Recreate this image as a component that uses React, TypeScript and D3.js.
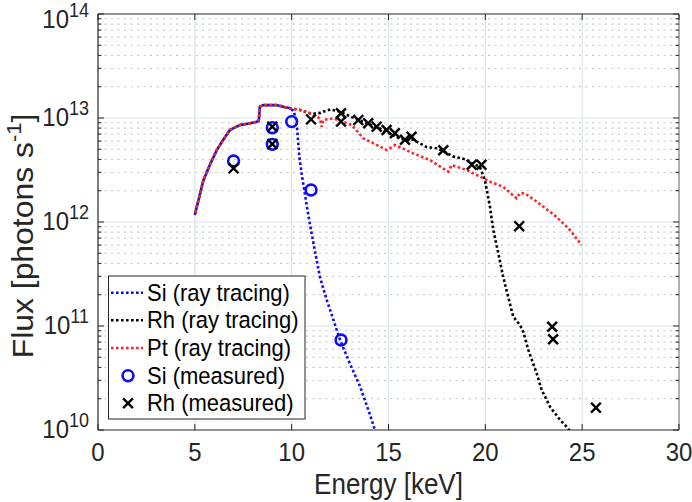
import React from "react";
import * as d3 from "d3";

// Ray-tracing curves (energy in keV, flux in photons/s)
const siRayE = [5, 5.2, 5.44, 5.8, 6.13, 6.5, 6.81, 7.33, 7.85, 8.19, 8.3, 8.36, 8.53, 9.22, 9.91, 10.1, 10.25, 10.4, 10.55, 10.7, 10.9, 11.12, 11.46, 11.81, 12.15, 12.49, 13.0, 13.53, 14.0, 14.3, 14.6];
const siRayF = [1.17e12, 1.66e12, 2.51e12, 3.63e12, 4.9e12, 6.31e12, 7.67e12, 8.57e12, 8.89e12, 9.2e12, 9.33e12, 1.285e13, 1.33e13, 1.33e13, 1.24e13, 1.17e13, 9.33e12, 4.17e12, 2.63e12, 1.78e12, 1.05e12, 6.31e11, 2.95e11, 1.78e11, 1.15e11, 7.41e10, 4.37e10, 2.63e10, 1.48e10, 1.0e10, 7.08e9];

const rhRayE = [5, 5.2, 5.44, 5.8, 6.13, 6.5, 6.81, 7.33, 7.85, 8.19, 8.3, 8.36, 8.53, 9.22, 9.91, 10.4, 10.94, 11.12, 11.5, 11.63, 12.0, 12.49, 13.1, 13.87, 14.56, 15.07, 15.59, 16.28, 16.97, 17.49, 17.83, 18.34, 19.03, 19.21, 19.72, 19.98, 20.24, 20.41, 20.67, 20.92, 21.18, 21.44, 21.79, 21.96, 22.22, 22.65, 22.91, 23.34, 23.86, 24.23, 24.5];
const rhRayF = [1.17e12, 1.66e12, 2.51e12, 3.63e12, 4.9e12, 6.31e12, 7.67e12, 8.57e12, 8.89e12, 9.2e12, 9.33e12, 1.285e13, 1.33e13, 1.33e13, 1.24e13, 1.2e13, 1.11e13, 1.1e13, 1.12e13, 1.15e13, 1.21e13, 1.15e13, 1.02e13, 8.91e12, 7.94e12, 7.08e12, 6.31e12, 6.17e12, 5.25e12, 5.13e12, 4.79e12, 4.27e12, 3.98e12, 3.72e12, 3.39e12, 2.51e12, 1.4e12, 8.38e11, 5.01e11, 2.98e11, 1.91e11, 1.23e11, 1.02e11, 8.81e10, 5.89e10, 3.51e10, 2.43e10, 1.67e10, 1.25e10, 1.06e10, 9.0e9];

const ptRayE = [5, 5.2, 5.44, 5.8, 6.13, 6.5, 6.81, 7.33, 7.85, 8.19, 8.3, 8.36, 8.53, 9.22, 9.91, 10.4, 10.94, 11.12, 11.46, 11.55, 11.63, 12.15, 13.1, 13.7, 14.91, 15.08, 15.33, 16.28, 17.14, 18.08, 18.26, 19.03, 19.72, 20.24, 20.92, 21.61, 21.79, 22.04, 22.65, 23.68, 24.37, 24.97];
const ptRayF = [1.17e12, 1.66e12, 2.51e12, 3.63e12, 4.9e12, 6.31e12, 7.67e12, 8.57e12, 8.89e12, 9.2e12, 9.33e12, 1.285e13, 1.33e13, 1.33e13, 1.24e13, 1.2e13, 1.11e13, 1.07e13, 9.93e12, 8.24e12, 9.55e12, 9.93e12, 8.57e12, 6.38e12, 4.92e12, 5.12e12, 5.5e12, 4.57e12, 3.94e12, 3.05e12, 3.53e12, 3.16e12, 2.73e12, 2.44e12, 2.18e12, 1.69e12, 1.89e12, 1.89e12, 1.57e12, 1.12e12, 8.38e11, 6.01e11];

// Measured points
const siMeasE = [7, 9, 9, 10, 11, 12.55];
const siMeasF = [3.86e12, 8.07e12, 5.58e12, 9.23e12, 2.03e12, 7.33e10];

const rhMeasE = [7, 9, 9, 11, 12.55, 12.55, 13.44, 13.95, 14.39, 14.9, 15.33, 15.85, 16.19, 17.83, 19.3, 19.8, 21.75, 23.45, 23.5, 25.71];
const rhMeasF = [3.28e12, 8.26e12, 5.62e12, 9.7e12, 1.11e13, 9.23e12, 9.55e12, 8.91e12, 8.26e12, 7.67e12, 7.13e12, 6.17e12, 6.61e12, 4.9e12, 3.55e12, 3.55e12, 9.12e11, 9.84e10, 7.45e10, 1.64e10];

const xTicks = [0, 5, 10, 15, 20, 25, 30];
const yDecades = [10, 11, 12, 13, 14];
const legendLabels = ["Si (ray tracing)", "Rh (ray tracing)", "Pt (ray tracing)", "Si (measured)", "Rh (measured)"];

const BLUE = "#0a0aff";
const RED = "#ff2424";
const BLACK = "#000000";
const FONT = "'Liberation Sans', Arial, Helvetica, sans-serif";
const TXT = "#262626";

export default function App() {
  const W = 692, H = 502;
  const L = 98, R = 679, T = 14, B = 430;
  const x = d3.scaleLinear().domain([0, 30]).range([L, R]);
  const y = d3.scaleLog().domain([1e10, 1e14]).range([B, T]);

  const line = d3
    .line<[number, number]>()
    .x((d) => x(d[0]))
    .y((d) => y(d[1]));

  const zip = (a: number[], b: number[]) => a.map((v, i) => [v, b[i]] as [number, number]);

  const minors: number[] = [];
  for (let dcd = 10; dcd < 14; dcd++) {
    for (let k = 2; k <= 9; k++) minors.push(k * Math.pow(10, dcd));
  }

  const dash = "2.6 2.4";
  const lw = 2.6;
  const SY = 1.08; // slight vertical stretch of glyphs, as in the reference

  const legendRowY = [292.7, 320.2, 348, 375.7, 403.3];
  const xMark = (cx: number, cy: number, s: number, key: string) => (
    <g key={key} stroke={BLACK} strokeWidth={2.4}>
      <line x1={cx - s} y1={cy - s} x2={cx + s} y2={cy + s} />
      <line x1={cx - s} y1={cy + s} x2={cx + s} y2={cy - s} />
    </g>
  );

  return (
    <svg width={W} height={H} style={{ position: "absolute", left: 0, top: 0, background: "#fff" }} fontFamily={FONT}>
      <defs>
        <clipPath id="plotclip">
          <rect x={L} y={T} width={R - L} height={B - T} />
        </clipPath>
      </defs>
      <rect x={0} y={0} width={W} height={H} fill="#fff" />
      {/* minor horizontal grid */}
      {minors.map((v, i) => (
        <line key={"mg" + i} x1={L} x2={R} y1={y(v)} y2={y(v)} stroke="#b9c2c6" strokeWidth={1} strokeDasharray="2 4.5" />
      ))}
      {/* major grid */}
      {yDecades.slice(1, 4).map((d) => (
        <line key={"gy" + d} x1={L} x2={R} y1={y(Math.pow(10, d))} y2={y(Math.pow(10, d))} stroke="#dbe4e8" strokeWidth={1.2} />
      ))}
      {xTicks.slice(1, 6).map((t) => (
        <line key={"gx" + t} x1={x(t)} x2={x(t)} y1={T} y2={B} stroke="#dbe4e8" strokeWidth={1.2} />
      ))}

      {/* curves */}
      <g clipPath="url(#plotclip)" fill="none" strokeWidth={lw} strokeDasharray={dash}>
        <path d={line(zip(siRayE, siRayF)) || ""} stroke={BLUE} />
        <path d={line(zip(rhRayE, rhRayF)) || ""} stroke={BLACK} strokeDashoffset={2.5} />
        <path d={line(zip(ptRayE, ptRayF)) || ""} stroke={RED} strokeDashoffset={2.5} />
      </g>

      {/* measured markers */}
      {siMeasE.map((e, i) => (
        <circle key={"si" + i} cx={x(e)} cy={y(siMeasF[i])} r={5.4} fill="none" stroke={BLUE} strokeWidth={2.6} />
      ))}
      {rhMeasE.map((e, i) => xMark(x(e), y(rhMeasF[i]), 4.9, "rh" + i))}

      {/* axes box */}
      <line x1={L} x2={R} y1={T} y2={T} stroke={TXT} strokeWidth={1.2} />
      <line x1={R} x2={R} y1={T} y2={B} stroke="#7a7a7a" strokeWidth={1.2} />
      <line x1={L} x2={R} y1={B} y2={B} stroke={TXT} strokeWidth={1.2} />
      <line x1={L} x2={L} y1={T} y2={B} stroke={TXT} strokeWidth={1.2} />

      {/* ticks */}
      {xTicks.map((t) => (
        <g key={"xt" + t}>
          <line x1={x(t)} x2={x(t)} y1={B} y2={B - 6} stroke={TXT} strokeWidth={1} />
          <line x1={x(t)} x2={x(t)} y1={T} y2={T + 6} stroke={TXT} strokeWidth={1} />
          <text transform={`translate(${x(t)},461) scale(1,${SY})`} textAnchor="middle" fontSize={24} fill={TXT}>
            {t}
          </text>
        </g>
      ))}
      {yDecades.map((d) => {
        const ty = y(Math.pow(10, d)) + (d === 14 ? 6 : 0);
        return (
          <g key={"yt" + d}>
            <line x1={L} x2={L + 6} y1={y(Math.pow(10, d))} y2={y(Math.pow(10, d))} stroke={TXT} strokeWidth={1} />
            <line x1={R} x2={R - 6} y1={y(Math.pow(10, d))} y2={y(Math.pow(10, d))} stroke={TXT} strokeWidth={1} />
            <text transform={`translate(89,${ty + 8}) scale(1,${SY})`} textAnchor="end" fontSize={24} fill={TXT}>
              10
              <tspan fontSize={18} dy={-10.5}>
                {d}
              </tspan>
            </text>
          </g>
        );
      })}
      {minors.map((v, i) => (
        <g key={"mt" + i}>
          <line x1={L} x2={L + 3.5} y1={y(v)} y2={y(v)} stroke={TXT} strokeWidth={1} />
          <line x1={R} x2={R - 3.5} y1={y(v)} y2={y(v)} stroke={TXT} strokeWidth={1} />
        </g>
      ))}

      {/* axis titles */}
      <text transform={`translate(${(L + R) / 2},494) scale(1,1.12)`} textAnchor="middle" fontSize={26} fill={TXT}>
        Energy [keV]
      </text>
      <text transform={`translate(33, 236) rotate(-90) scale(1.1,1)`} textAnchor="middle" fontSize={29} fill={TXT}>
        Flux [photons s
        <tspan fontSize={20} dy={-12}>
          -1
        </tspan>
        <tspan dy={12}>]</tspan>
      </text>

      {/* legend */}
      <rect x={108.5} y={276} width={196.5} height={143} fill="#fff" stroke={TXT} strokeWidth={1} />
      {[BLUE, BLACK, RED].map((c, i) => (
        <line key={"ll" + i} x1={111} x2={143} y1={legendRowY[i]} y2={legendRowY[i]} stroke={c} strokeWidth={lw} strokeDasharray={dash} />
      ))}
      <circle cx={128} cy={legendRowY[3]} r={5.4} fill="none" stroke={BLUE} strokeWidth={2.6} />
      {xMark(128, legendRowY[4], 4.9, "legx")}
      {legendLabels.map((lab, i) => (
        <text key={"lt" + i} transform={`translate(147,${legendRowY[i] + 8}) scale(1,${SY})`} fontSize={22} fill="#000">
          {lab}
        </text>
      ))}
    </svg>
  );
}
